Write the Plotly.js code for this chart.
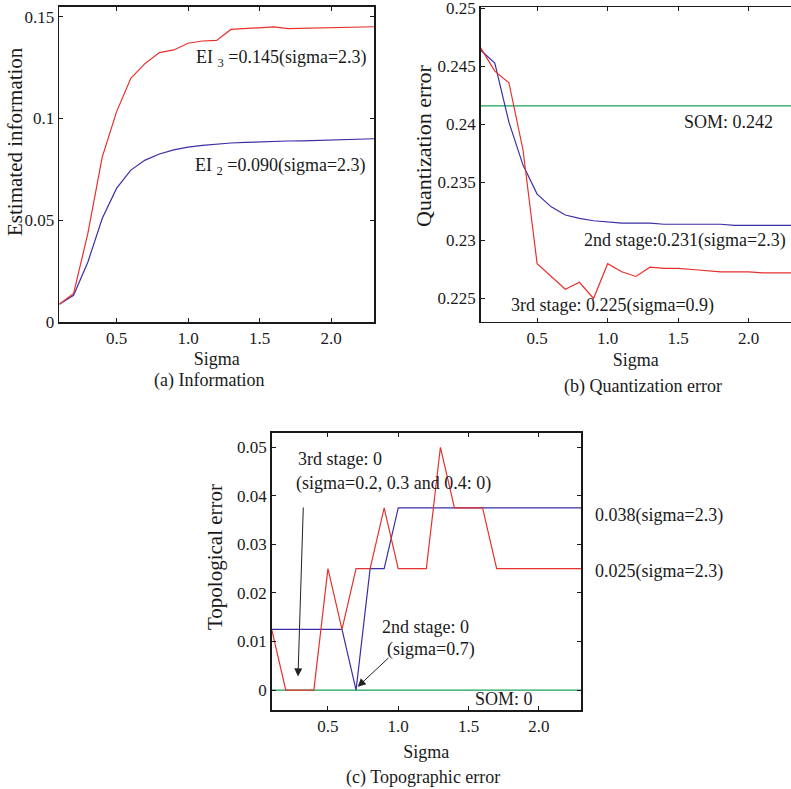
<!DOCTYPE html>
<html>
<head>
<meta charset="utf-8">
<script src="https://cdn.plot.ly/plotly-3.0.1.min.js"></script>
<style>
  html, body { margin: 0; padding: 0; background: #fff; overflow: hidden; }
  #chart { width: 791px; height: 789px; }
</style>
</head>
<body>
<div id="chart"></div>
<script>
// Neighbourhood width (sigma) used for every run
const sigma = [0.1, 0.2, 0.3, 0.4, 0.5, 0.6, 0.7, 0.8, 0.9, 1.0, 1.1, 1.2,
               1.3, 1.4, 1.5, 1.6, 1.7, 1.8, 1.9, 2.0, 2.1, 2.2, 2.3];

// (a) Estimated information
const infoEI3 = [0.0087, 0.0140, 0.0436, 0.0810, 0.1032, 0.1197, 0.1270, 0.1323,
                 0.1336, 0.1369, 0.1380, 0.1383, 0.1437, 0.1442, 0.1445, 0.1449,
                 0.1441, 0.1443, 0.1444, 0.1446, 0.1447, 0.1448, 0.1450];
const infoEI2 = [0.0087, 0.0131, 0.0295, 0.0508, 0.0656, 0.0746, 0.0795, 0.0825,
                 0.0845, 0.0859, 0.0867, 0.0874, 0.0879, 0.0882, 0.0885, 0.0887,
                 0.0889, 0.0890, 0.0892, 0.0894, 0.0896, 0.0898, 0.0900];

// (b) Quantization error
const qe2nd = [0.2464, 0.2453, 0.2402, 0.2365, 0.2340, 0.2329, 0.2322, 0.2319,
               0.2317, 0.2316, 0.2315, 0.2315, 0.2315, 0.2314, 0.2314, 0.2314,
               0.2314, 0.2314, 0.2313, 0.2313, 0.2313, 0.2313, 0.2313];
const qe3rd = [0.2466, 0.2446, 0.2436, 0.2378, 0.2280, 0.2269, 0.2258, 0.2264,
               0.2250, 0.2280, 0.2273, 0.2269, 0.2277, 0.2276, 0.2276, 0.2275,
               0.2274, 0.2273, 0.2273, 0.2273, 0.2272, 0.2272, 0.2272];
const qeSOM = 0.2416;

// (c) Topographic error
const te2nd = [0.0125, 0.0125, 0.0125, 0.0125, 0.0125, 0.0125, 0, 0.025,
               0.025, 0.0375, 0.0375, 0.0375, 0.0375, 0.0375, 0.0375, 0.0375,
               0.0375, 0.0375, 0.0375, 0.0375, 0.0375, 0.0375, 0.0375];
const te3rd = [0.0125, 0, 0, 0, 0.025, 0.0125, 0.025, 0.025,
               0.0375, 0.025, 0.025, 0.025, 0.05, 0.0375, 0.0375, 0.0375,
               0.025, 0.025, 0.025, 0.025, 0.025, 0.025, 0.025];
const teSOM = 0;

// Tick labels
const xTickVals = [0.5, 1.0, 1.5, 2.0];
const xTickText = ['0.5', '1.0', '1.5', '2.0'];
const infoTickVals = [0, 0.05, 0.1, 0.15];
const infoTickText = ['0', '0.05', '0.1', '0.15'];
const qeTickVals = [0.225, 0.23, 0.235, 0.24, 0.245, 0.25];
const qeTickText = ['0.225', '0.23', '0.235', '0.24', '0.245', '0.25'];
const teTickVals = [0, 0.01, 0.02, 0.03, 0.04, 0.05];
const teTickText = ['0', '0.01', '0.02', '0.03', '0.04', '0.05'];

const RED = '#e8302c';
const BLUE = '#3b2fa6';
const GREEN = '#17a35a';
const INK = '#1a1a1a';
const SERIF = 'Liberation Serif, Times New Roman, serif';

const fmt = v => (Math.round(v * 1000 + 1e-9) / 1000).toFixed(3);
const last = a => a[a.length - 1];
const argMin = a => a.indexOf(Math.min(...a));

function line(x, y, color, xa, ya) {
  return { x: x, y: y, xaxis: xa, yaxis: ya, type: 'scatter', mode: 'lines',
           line: { color: color, width: 1.2 }, hoverinfo: 'skip', showlegend: false };
}

const traces = [
  line(sigma, infoEI2, BLUE, 'x', 'y'),
  line(sigma, infoEI3, RED, 'x', 'y'),
  line([sigma[0], last(sigma)], [qeSOM, qeSOM], GREEN, 'x2', 'y2'),
  line(sigma, qe2nd, BLUE, 'x2', 'y2'),
  line(sigma, qe3rd, RED, 'x2', 'y2'),
  line([sigma[0], last(sigma)], [teSOM, teSOM], GREEN, 'x3', 'y3'),
  line(sigma, te2nd, BLUE, 'x3', 'y3'),
  line(sigma, te3rd, RED, 'x3', 'y3')
];

function xAxis(domain, anchor, mirror, standoff) {
  return {
    domain: domain, anchor: anchor, range: [0.1, 2.3],
    tickvals: xTickVals, ticktext: xTickText,
    ticks: 'inside', ticklen: 4, tickwidth: 1, tickcolor: INK,
    showline: true, linewidth: 1.6, linecolor: INK, mirror: mirror,
    showgrid: false, zeroline: false,
    tickfont: { family: SERIF, size: 17, color: INK },
    title: { text: 'Sigma', font: { family: SERIF, size: 18, color: INK }, standoff: standoff }
  };
}
function yAxis(domain, anchor, range, vals, text, mirror) {
  return {
    domain: domain, anchor: anchor, range: range,
    tickvals: vals, ticktext: text,
    ticks: 'inside', ticklen: 4, tickwidth: 1, tickcolor: INK,
    showline: true, linewidth: 1.6, linecolor: INK, mirror: mirror,
    showgrid: false, zeroline: false, ticklabeloverflow: 'allow',
    tickfont: { family: SERIF, size: 17, color: INK }
  };
}

const W = 791, H = 789;
const px = v => v / W;
const py = v => 1 - v / H;

function note(text, x, y, xref, yref, size, opts) {
  return Object.assign({
    text: text, x: x, y: y, xref: xref, yref: yref,
    xanchor: 'left', yanchor: 'middle', showarrow: false,
    font: { family: SERIF, size: size, color: INK }
  }, opts || {});
}
function arrow(hx, hy, tx, ty, xr, yr) {
  return {
    text: '', x: hx, y: hy, ax: tx, ay: ty, xref: xr, yref: yr, axref: xr, ayref: yr,
    showarrow: true, arrowhead: 2, arrowsize: 1.6, arrowwidth: 1, arrowcolor: '#222', standoff: 0
  };
}

const qeMinIdx = argMin(qe3rd);
const te2MinIdx = argMin(te2nd);
const endTag = '(sigma=' + last(sigma).toFixed(1) + ')';

const annotations = [
  // (a)
  note('EI <sub>3</sub> =' + fmt(last(infoEI3)) + endTag, 1.042, 0.1295, 'x', 'y', 18),
  note('EI <sub>2</sub> =' + fmt(last(infoEI2)) + endTag, 1.035, 0.0765, 'x', 'y', 18),
  note('Estimated information', px(15), py(142), 'paper', 'paper', 21,
       { textangle: -90, xanchor: 'center' }),
  note('(a) Information', px(209), py(380), 'paper', 'paper', 18, { xanchor: 'center' }),

  // (b)
  note('SOM: ' + fmt(qeSOM), 1.527, 0.2402, 'x2', 'y2', 18),
  note('2nd stage:' + fmt(last(qe2nd)) + endTag, 0.816, 0.2300, 'x2', 'y2', 18),
  note('3rd stage: ' + fmt(qe3rd[qeMinIdx]) + '(sigma=' + sigma[qeMinIdx].toFixed(1) + ')',
       0.303, 0.22443, 'x2', 'y2', 18),
  note('Quantization error', px(423), py(146), 'paper', 'paper', 22,
       { textangle: -90, xanchor: 'center' }),
  note('(b) Quantization error', px(643), py(386.7), 'paper', 'paper', 18, { xanchor: 'center' }),

  // (c)
  note('3rd stage: ' + Math.min(...te3rd), 0.273, 0.0475, 'x3', 'y3', 18),
  note('(sigma=0.2, 0.3 and 0.4: 0)', 0.261, 0.0426, 'x3', 'y3', 18),
  arrow(0.287, 0.0028, 0.325, 0.0379, 'x3', 'y3'),
  note('2nd stage: ' + te2nd[te2MinIdx], 0.870, 0.0129, 'x3', 'y3', 18),
  note('(sigma=' + sigma[te2MinIdx].toFixed(1) + ')', 0.906, 0.0083, 'x3', 'y3', 18),
  arrow(0.712, 0.0007, 0.941, 0.0069, 'x3', 'y3'),
  note('SOM: ' + teSOM, 1.534, -0.0019, 'x3', 'y3', 18),
  // end values, written to the right of the frame
  note(fmt(last(te2nd)) + endTag, px(592.7), py(515), 'paper', 'paper', 18),
  note(fmt(last(te3rd)) + endTag, px(592.7), py(571.7), 'paper', 'paper', 18),
  note('Topological error', px(215), py(557), 'paper', 'paper', 21,
       { textangle: -90, xanchor: 'center' }),
  note('(c) Topographic error', px(422.5), py(777.3), 'paper', 'paper', 18, { xanchor: 'center' })
];

const layout = {
  width: W, height: H,
  margin: { l: 0, r: 0, t: 0, b: 0 },
  paper_bgcolor: '#ffffff', plot_bgcolor: '#ffffff',
  showlegend: false,
  font: { family: SERIF, color: INK },
  xaxis: xAxis([px(59.3), px(374)], 'y', 'allticks', 5),
  yaxis: yAxis([py(322), py(7)], 'x', [0, 0.1547], infoTickVals, infoTickText, 'allticks'),
  xaxis2: xAxis([px(480.7), 1], 'y2', 'allticks', 6),
  yaxis2: yAxis([py(321.7), py(7.3)], 'x2', [0.223, 0.2501], qeTickVals, qeTickText, false),
  xaxis3: xAxis([px(271.7), px(581)], 'y3', 'allticks', 10),
  yaxis3: yAxis([py(710), py(432.7)], 'x3', [-0.0041, 0.053], teTickVals, teTickText, 'allticks'),
  annotations: annotations
};

Plotly.newPlot('chart', traces, layout, { staticPlot: true, displayModeBar: false });
</script>
</body>
</html>
